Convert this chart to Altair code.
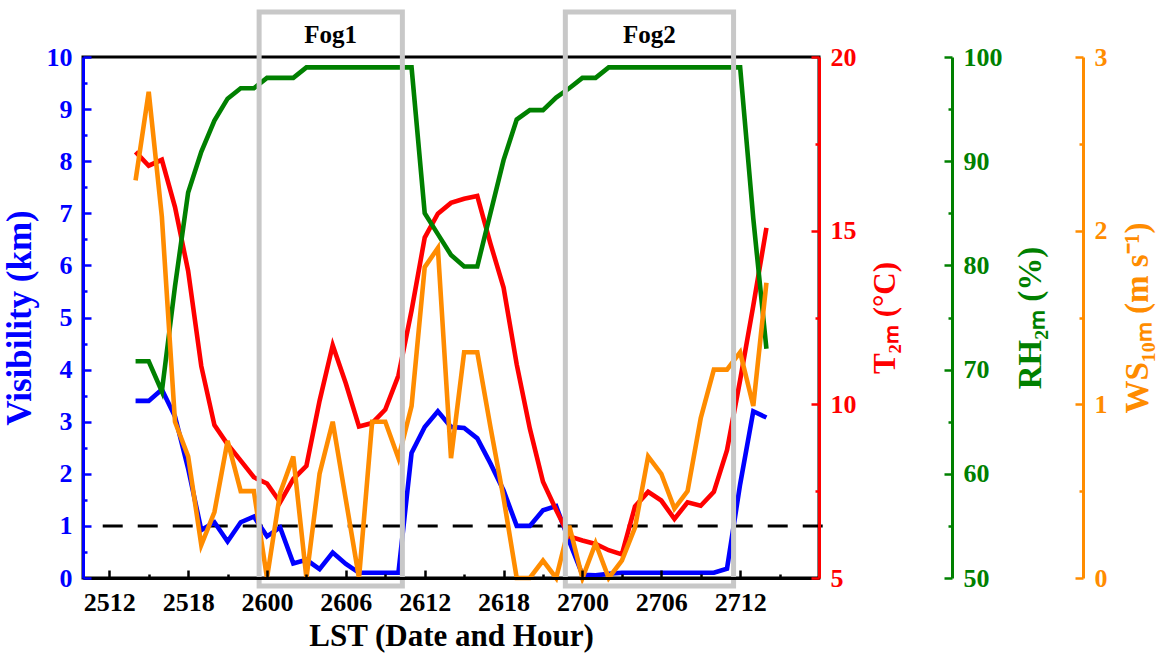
import altair as alt
import pandas as pd

# ---------------- data (hours counted from 25 Dec 12:00 LST) ----------------
hours = list(range(2, 51))

visibility_km = [3.4, 3.4, 3.62, 3.1, 2.1, 0.92, 1.07, 0.7, 1.07, 1.18,
                 0.8, 0.97, 0.28, 0.35, 0.17, 0.49, 0.27, 0.1, 0.1, 0.1,
                 0.1, 2.4, 2.9, 3.2, 2.9, 2.88, 2.68, 2.2, 1.68, 1.0,
                 1.0, 1.3, 1.38, 0.7, 0.06, 0.05, 0.08, 0.1, 0.1, 0.1,
                 0.1, 0.1, 0.1, 0.1, 0.1, 0.18, 1.8, 3.2, 3.08]

temperature_c = [17.27, 16.87, 17.04, 15.68, 13.84, 11.1, 9.4, 8.85, 8.38, 7.9,
                 7.72, 7.18, 7.85, 8.23, 10.1, 11.7, 10.6, 9.36, 9.46, 9.85,
                 10.83, 12.7, 14.8, 15.49, 15.8, 15.92, 16.0, 14.63, 13.36, 11.15,
                 9.3, 7.77, 6.96, 6.2, 6.08, 5.98, 5.8, 5.68, 7.06, 7.48,
                 7.23, 6.7, 7.18, 7.08, 7.48, 8.68, 10.7, 12.84, 15.08]

rh_pct = [70.8, 70.8, 67.9, 78.0, 87.0, 90.9, 93.9, 96.0, 97.0, 97.0,
          98.0, 98.0, 98.0, 99.0, 99.0, 99.0, 99.0, 99.0, 99.0, 99.0,
          99.0, 99.0, 85.0, 83.0, 81.0, 79.9, 79.9, 85.0, 90.1, 94.0,
          94.9, 94.9, 96.1, 97.0, 98.0, 98.0, 99.0, 99.0, 99.0, 99.0,
          99.0, 99.0, 99.0, 99.0, 99.0, 99.0, 99.0, 84.5, 72.0]

ws_ms = [2.29, 2.8, 2.08, 0.9, 0.7, 0.19, 0.38, 0.79, 0.5, 0.5,
         0.0, 0.49, 0.7, 0.0, 0.6, 0.9, 0.45, 0.0, 0.9, 0.9,
         0.69, 0.99, 1.79, 1.9, 0.69, 1.3, 1.3, 0.87, 0.46, 0.0,
         0.0, 0.1, 0.0, 0.3, 0.0, 0.2, 0.0, 0.1, 0.29, 0.7,
         0.6, 0.4, 0.5, 0.92, 1.2, 1.2, 1.3, 0.99, 1.7]

x_tick_hours = [0, 6, 12, 18, 24, 30, 36, 42, 48]
x_tick_labels = ["2512", "2518", "2600", "2606", "2612", "2618", "2700", "2706", "2712"]
x_minor_hours = [3, 9, 15, 21, 27, 33, 39, 45, 51]

fog_names = ["Fog1", "Fog2"]
fog_start = [11.4, 34.7]
fog_end = [22.3, 47.5]

threshold_km = [1]
threshold_from = [-0.5]
threshold_to = [55]

# ---------------- styling ----------------
BLUE = "#0000ff"
RED = "#ff0000"
GREEN = "#008000"
ORANGE = "#ff8c00"
GRAY = "#c8c8c8"
FONT = "Liberation Serif"
LABEL_SIZE = 26
LINE_W = 4.6

df = pd.DataFrame({"h": hours, "vis": visibility_km, "t": temperature_c,
                   "rh": rh_pct, "ws": ws_ms})
fog_df = pd.DataFrame({"name": fog_names, "start": fog_start, "end": fog_end})
fog_df["mid"] = (fog_df["start"] + fog_df["end"]) / 2
thr_df = pd.DataFrame({"v": threshold_km, "x1": threshold_from, "x2": threshold_to})

x_scale = alt.Scale(domain=[-2, 54], nice=False, zero=False)
label_expr = "[" + ",".join("'%s'" % s for s in x_tick_labels) + "][round(datum.value / 6)]"

x_major = alt.X("h:Q", scale=x_scale, axis=alt.Axis(
    values=x_tick_hours, labelExpr=label_expr, orient="bottom",
    labelFont=FONT, labelFontWeight="bold", labelFontSize=LABEL_SIZE, labelColor="black",
    domainColor="black", domainWidth=3, tickColor="black", tickWidth=2.5,
    tickSize={"expr": "-8"}, labelPadding=19, labelFlush=False, labelOverlap=False,
    title="LST (Date and Hour)", titleFont=FONT, titleFontWeight="bold",
    titleFontSize=31, titleColor="black", titlePadding=6, grid=False, zindex=2))
x_minor = alt.X("h:Q", scale=x_scale, axis=alt.Axis(
    values=x_minor_hours, orient="bottom", labels=False, domain=False,
    tickColor="black", tickWidth=2.5, tickSize={"expr": "-4"}, title=None,
    grid=False, zindex=2))
x_plain = alt.X("h:Q", scale=x_scale, axis=None)


def series_group(field, color, domain, major_vals, minor_vals, title, orient,
                 offset, title_size, title_baseline, title_padding, extra=(),
                 with_x_axes=False):
    scale = alt.Scale(domain=domain, nice=False, zero=False)
    major_axis = alt.Axis(
        orient=orient, offset=offset, values=major_vals,
        labelFont=FONT, labelFontWeight="bold", labelFontSize=LABEL_SIZE,
        labelColor=color, domainColor=color, domainWidth=3,
        tickColor=color, tickWidth=2.5, tickSize={"expr": "-8"}, labelPadding=19,
        labelFlush=False, labelOverlap=False,
        title=title, titleFont=FONT, titleFontWeight="bold", titleFontSize=title_size,
        titleColor=color, titleAngle=270, titleBaseline=title_baseline,
        titlePadding=title_padding, grid=False, zindex=2)
    minor_axis = alt.Axis(
        orient=orient, offset=offset, values=minor_vals, labels=False,
        domain=False, tickColor=color, tickWidth=2.5, tickSize={"expr": "-4"},
        title=None, grid=False, zindex=2)
    base = alt.Chart(df)
    ghost = base.mark_line(strokeOpacity=0).encode(
        x=x_minor if with_x_axes else x_plain,
        y=alt.Y(field + ":Q", scale=scale, axis=minor_axis))
    line = base.mark_line(color=color, strokeWidth=LINE_W).encode(
        x=x_major if with_x_axes else x_plain,
        y=alt.Y(field + ":Q", scale=scale, axis=major_axis))
    layers = [ghost] + list(extra) + [line]
    grp = alt.layer(*layers).resolve_scale(y="shared")
    if with_x_axes:
        grp = grp.resolve_axis(y="independent", x="independent")
    else:
        grp = grp.resolve_axis(y="independent")
    return grp


threshold = alt.Chart(thr_df).mark_rule(
    color="black", strokeWidth=3, strokeDash=[20, 15]).encode(
    x=alt.X("x1:Q", scale=x_scale, axis=None),
    x2="x2:Q",
    y=alt.Y("v:Q", scale=alt.Scale(domain=[0, 10], nice=False, zero=False), axis=None))

vis_g = series_group("vis", BLUE, [0, 10], list(range(0, 11)),
                     [i + 0.5 for i in range(10)], "Visibility (km)", "left",
                     0, 35, "bottom", 9, extra=[threshold], with_x_axes=True)
t_g = series_group("t", RED, [5, 20], [5, 10, 15, 20], [7.5, 12.5, 17.5],
                   "T\u2082\u2098 (\u00b0C)", "right", 0, 31, "top", 14)
rh_g = series_group("rh", GREEN, [50, 100], [50, 60, 70, 80, 90, 100],
                    [55, 65, 75, 85, 95], "RH\u2082\u2098 (%)", "right", 133,
                    33, "top", 12)
ws_g = series_group("ws", ORANGE, [0, 3], [0, 1, 2, 3], [0.5, 1.5, 2.5],
                    "WS\u2081\u2080\u2098 (m s\u207b\u00b9)", "right", 264,
                    33, "top", 14)

fog_box = alt.Chart(fog_df).mark_rect(
    fill=None, fillOpacity=0, stroke=GRAY, strokeWidth=5).encode(
    x=alt.X("start:Q", scale=x_scale, axis=None),
    x2="end:Q",
    y=alt.value(-45),
    y2=alt.value(529))
fog_text = alt.Chart(fog_df).mark_text(
    font=FONT, fontWeight="bold", fontSize=25, color="black",
    baseline="middle", align="center").encode(
    x=alt.X("mid:Q", scale=x_scale, axis=None),
    y=alt.value(-22),
    text="name:N")

chart = alt.layer(vis_g, t_g, rh_g, ws_g, fog_box, fog_text).resolve_scale(
    y="independent").resolve_axis(y="independent", x="independent").properties(
    width=736, height=521,
    padding={"left": 83, "top": 57, "right": 346, "bottom": 80},
    autosize=alt.AutoSizeParams(type="none"),
    background="white",
).configure_view(stroke="black", strokeWidth=3)

chart.save("out.html", embed_options={"renderer": "svg", "actions": False})
